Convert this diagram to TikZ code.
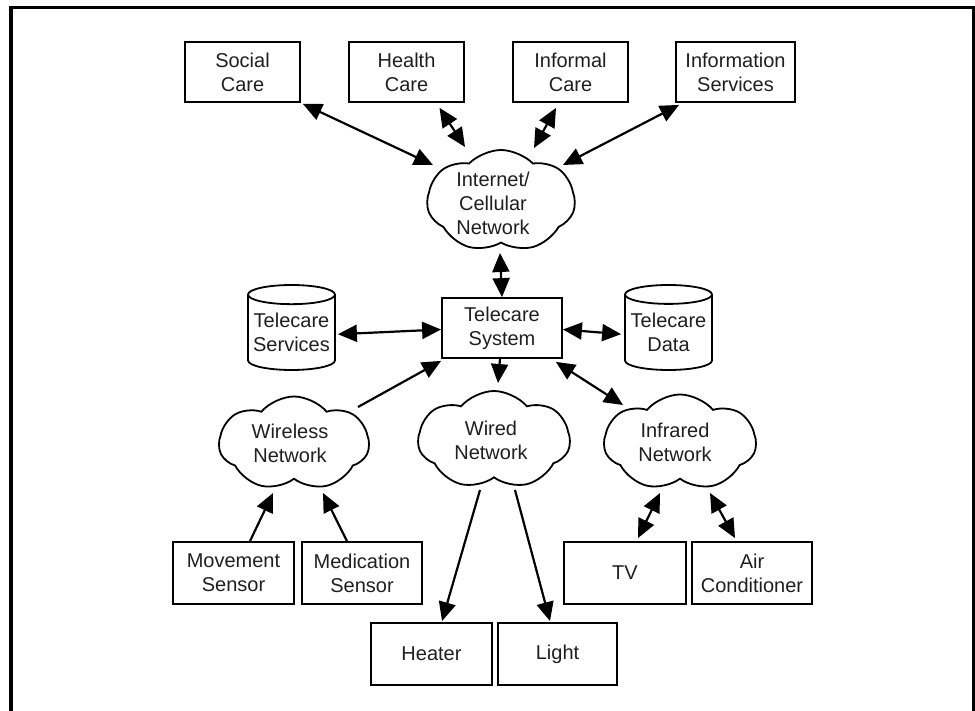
\documentclass[tikz,border=0pt]{standalone}
\usepackage{fontspec}
\setmainfont{Liberation Sans}
\usetikzlibrary{shapes.symbols,shapes.geometric,arrows.meta,calc}
\begin{document}
\begin{tikzpicture}[x=1pt,y=-1pt,
  font=\fontsize{20}{24}\selectfont,
  every node/.style={align=center, text=black!88, inner sep=0pt},
  boxnode/.style={draw, line width=1.8pt, rectangle, minimum height=60},
  cloudnode/.style={draw, line width=1.8pt, cloud, cloud puffs=7, cloud puff arc=100, cloud ignores aspect},
  cyl/.style={draw, line width=1.8pt, cylinder, shape border rotate=90, shape aspect=0.25, minimum width=87, minimum height=85, anchor=shape center},
  tip/.tip={Triangle[length=19pt,width=17pt]},
  dbl/.style={line width=2.2pt, tip-tip},
  one/.style={line width=2.2pt, -tip},
  frame/.style={line width=3.8pt}]
\useasboundingbox (0,0) rectangle (975,711);
% frame (open at the bottom)
\coordinate (fbl) at (11.3,720);
\coordinate (ftl) at (11.3,7.5);
\coordinate (ftr) at (973.5,7.5);
\coordinate (fbr) at (973.5,720);
\draw[frame] (fbl) -- (ftl) -- (ftr) -- (fbr);

% top row
\node[boxnode, minimum width=115] (soc) at (242.5,72) {Social\\Care};
\node[boxnode, minimum width=115] (hc) at (406.5,72) {Health\\Care};
\node[boxnode, minimum width=115] (ic) at (570.5,72) {Informal\\Care};
\node[boxnode, minimum width=119] (is) at (735.5,72) {Information\\Services};

% internet cloud
\node[cloudnode, cloud puff arc=92, minimum width=148, minimum height=102,
  label={[align=center, xshift=-8, yshift=-2]center:Internet/\\Cellular\\Network}] (inet) at (501,201) {};

% middle row
\node[boxnode, minimum width=120] (tsys) at (502,328) {Telecare\\System};
\node[cyl] (tsrv) at (291.5,327.5) {Telecare\\Services};
\node[cyl] (tdat) at (668.5,327.5) {Telecare\\Data};

% network clouds
\node[cloudnode, minimum width=150, minimum height=94,
  label={[align=center, xshift=-4]center:Wireless\\Network}] (wless) at (294,443.5) {};
\node[cloudnode, minimum width=152, minimum height=98,
  label={[align=center, xshift=-3]center:Wired\\Network}] (wired) at (494,440) {};
\node[cloudnode, minimum width=152, minimum height=96,
  label={[align=center, xshift=-5]center:Infrared\\Network}] (infr) at (680,442.5) {};

% devices
\node[boxnode, minimum width=121, minimum height=62] (mov) at (233.5,573) {Movement\\Sensor};
\node[boxnode, minimum width=120, minimum height=62] (med) at (362,573) {Medication\\Sensor};
\node[boxnode, minimum width=121, minimum height=62] (heat) at (431.5,654) {Heater};
\node[boxnode, minimum width=119, minimum height=62] (light) at (557.5,654) {Light};
\node[boxnode, minimum width=122, minimum height=62] (tv) at (625,573) {TV};
\node[boxnode, minimum width=120, minimum height=62] (ac) at (752,573) {Air\\Conditioner};

% connectors: top
\draw[dbl] ($(soc.south east)+(2,1)$) -- ($(inet)+(-68,-36)$);
\draw[dbl] ($(hc.south)+(33,5)$) -- ($(inet)+(-36,-54)$);
\draw[dbl] ($(ic.south)+(-14.5,5)$) -- ($(inet)+(33,-53)$);
\draw[dbl] ($(is.south west)+(4,2)$) -- ($(inet)+(62,-36)$);
\draw[dbl] ($(inet)+(-1,52)$) -- (tsys.north);

% middle
\draw[dbl] ($(tsrv.east)+(2,1.5)$) -- ($(tsys.west)+(0,1.5)$);
\draw[dbl] ($(tsys.east)+(0,1.5)$) -- ($(tdat.west)+(-3,1.5)$);
\draw[one] ($(wless)+(64,-36.5)$) -- ($(tsys.south west)+(0,2)$);
\draw[one] ($(tsys.south)+(-2,0)$) -- ($(wired)+(4,-57)$);
\draw[dbl] ($(tsys.south east)+(-7,3)$) -- ($(infr)+(-57,-37.5)$);

% bottom
\draw[one] ($(mov.north)+(16.5,0)$) -- ($(wless)+(-21,49.5)$);
\draw[one] ($(med.north)+(-15,0)$) -- ($(wless)+(29,49.5)$);
\draw[one] ($(wired)+(-14,50)$) -- ($(heat.north)+(10.5,-1)$);
\draw[one] ($(wired)+(21,50)$) -- ($(light.north)+(-7.5,-1)$);
\draw[dbl] ($(infr)+(-20,50.5)$) -- ($(tv.north)+(13,-3)$);
\draw[dbl] ($(infr)+(30,50.5)$) -- ($(ac.north)+(-17,-3)$);
\end{tikzpicture}
\end{document}
